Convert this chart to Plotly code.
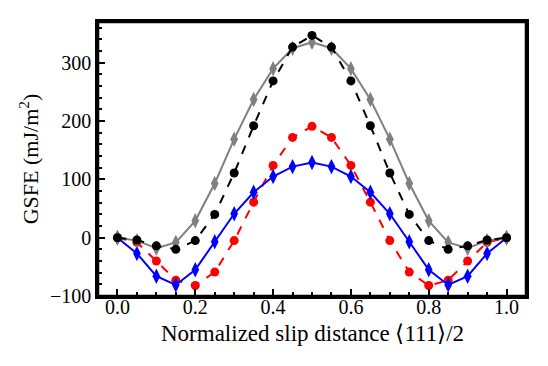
import plotly.graph_objects as go

slip = [0.0, 0.05, 0.1, 0.15, 0.2, 0.25, 0.3, 0.35, 0.4, 0.45, 0.5,
        0.55, 0.6, 0.65, 0.7, 0.75, 0.8, 0.85, 0.9, 0.95, 1.0]

gray_gsfe = [0, -5, -18, -8, 29, 93, 169, 237, 290, 325, 335,
             325, 290, 237, 169, 93, 29, -8, -18, -5, 0]
black_gsfe = [0, -4, -14, -20, -5, 40, 111, 192, 269, 327, 347,
              327, 269, 192, 111, 40, -5, -20, -14, -4, 0]
blue_gsfe = [0, -27, -66, -81, -55, -7, 41, 78, 105, 122, 129,
             122, 105, 78, 41, -7, -55, -81, -66, -27, 0]
red_gsfe = [0, -8, -40, -73, -82, -59, -5, 61, 124, 172, 191,
            172, 124, 61, -5, -59, -82, -73, -40, -8, 0]

FONT = "Liberation Serif"

# drawn bottom to top
series = [
    (red_gsfe, "#ff0000", "dash", "circle"),
    (blue_gsfe, "#0000ff", "solid", "diamond-tall"),
    (gray_gsfe, "#808080", "solid", "diamond-tall"),
    (black_gsfe, "#000000", "dash", "circle"),
]

fig = go.Figure()
for values, color, dash, symbol in series:
    fig.add_trace(
        go.Scatter(
            x=slip,
            y=values,
            mode="lines+markers",
            line=dict(color=color, width=2, dash=dash),
            marker=dict(color=color, symbol=symbol, size=9 if symbol == "circle" else 11),
            showlegend=False,
            cliponaxis=False,
        )
    )

# the page body adds an 8px margin, so the figure is 8px smaller on each side
fig.update_layout(
    width=540,
    height=358,
    margin=dict(l=90, r=22, t=14, b=70),
    plot_bgcolor="white",
    paper_bgcolor="white",
    font=dict(family=FONT, size=20, color="black"),
    shapes=[
        dict(type="rect", xref="paper", yref="paper", x0=0, y0=0, x1=1, y1=1,
             line=dict(color="black", width=2.5), layer="above"),
    ],
    annotations=[
        dict(text="Normalized slip distance ⟨111⟩/2", xref="paper", yref="paper",
             x=0.5, y=0, yshift=-37, xanchor="center", yanchor="middle",
             showarrow=False, font=dict(family=FONT, size=23, color="black")),
    ],
)

axis_style = dict(
    showline=True,
    linecolor="black",
    linewidth=2.5,
    mirror=True,
    showgrid=False,
    zeroline=False,
    automargin=False,
    ticks="inside",
    ticklen=7,
    tickwidth=1.5,
    tickcolor="black",
    tickfont=dict(family=FONT, size=20, color="black"),
)

fig.update_xaxes(
    range=[-0.05, 1.05],
    tickvals=[0.0, 0.2, 0.4, 0.6, 0.8, 1.0],
    ticktext=["0.0", "0.2", "0.4", "0.6", "0.8", "1.0"],
    ticklabelstandoff=-9,
    minor=dict(ticks="inside", ticklen=4, tickcolor="black", dtick=0.05, tick0=0),
    **axis_style,
)
fig.update_yaxes(
    range=[-100, 370],
    tickvals=[-100, 0, 100, 200, 300],
    ticktext=["\u2212100", "0", "100", "200", "300"],
    minor=dict(ticks="inside", ticklen=4, tickcolor="black", dtick=20, tick0=0),
    title=dict(text="GSFE (mJ/m<sup>2</sup>)",
               font=dict(family=FONT, size=22, color="black"), standoff=6),
    **axis_style,
)

fig.write_html("out.html")
